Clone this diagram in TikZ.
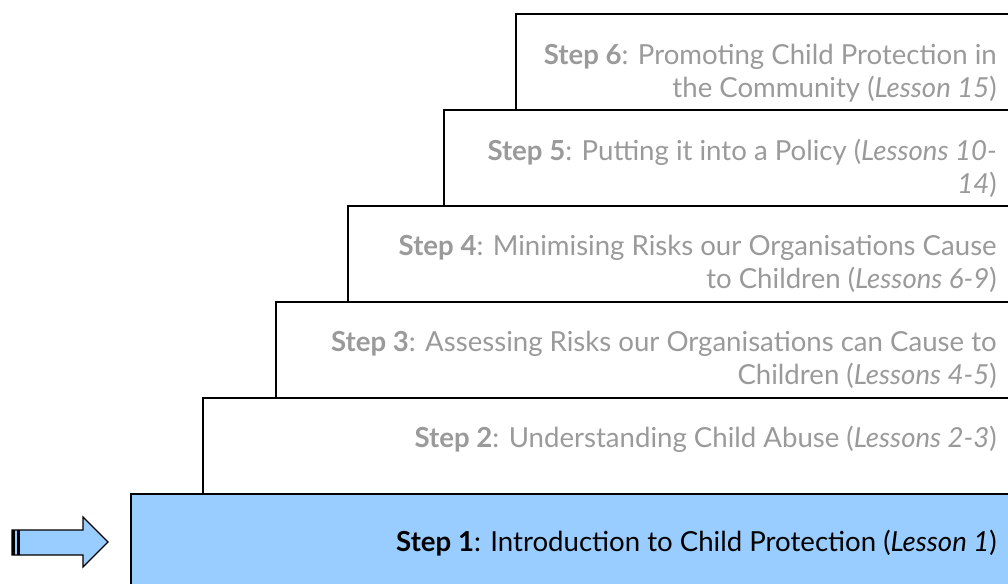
\documentclass[tikz,border=0pt]{standalone}
\usepackage{fontspec}
\setmainfont{Lato}
\definecolor{stepblue}{HTML}{99CCFF}
\definecolor{stepgray}{HTML}{9A9A9A}
\tikzset{
    stepedge/.style={draw=black, line width=1.1pt},
    steptext/.style={anchor=north east, inner sep=0pt, align=right, text=stepgray,
        font=\fontsize{20.7}{24.8}\selectfont},
}
\begin{document}
\begin{tikzpicture}[x=0.75pt, y=-0.75pt]
    \useasboundingbox (0,0) rectangle (1008,583);
    \clip (0,0) rectangle (1008,583);
    % the stairs, bottom step first
    \fill[stepblue] (131,494) rectangle (1015,590);
    \foreach \n/\x in {1/131, 2/203, 3/276, 4/348, 5/444, 6/516} {
        \pgfmathsetmacro{\y}{494 - 96*(\n - 1)}
        \draw[stepedge] (\x, \y + 96) -- (\x, \y) -- (1015, \y);
    }
    % texts
    \node[steptext, text=black] (txt1) at (997, 530) {\textbf{Step 1}: Introduction to Child Protection (\textit{Lesson 1})};
    \node[steptext] (txt2) at (997, 426) {\textbf{Step 2}: Understanding Child Abuse (\textit{Lessons 2-3})};
    \node[steptext] (txt3) at (997, 331) {\textbf{Step 3}: Assessing Risks our Organisations can Cause to\\ Children (\textit{Lessons 4-5})};
    \node[steptext] (txt4) at (997, 235) {\textbf{Step 4}: Minimising Risks our Organisations Cause\\ to Children (\textit{Lessons 6-9})};
    \node[steptext] (txt5) at (997, 139) {\textbf{Step 5}: Putting it into a Policy (\textit{Lessons 10-}\\ \textit{14})};
    \node[steptext] (txt6) at (997, 44) {\textbf{Step 6}: Promoting Child Protection in\\ the Community (\textit{Lesson 15})};
    % arrow pointing at step 1
    \draw[fill=stepblue, line width=0.9pt] (12,530) -- (83,530) -- (83,517) -- (108,542)
        -- (83,567) -- (83,555) -- (12,555) -- cycle;
    \fill[black] (12,530) rectangle (15,555);
    \fill[black] (17,530) rectangle (20,555);
\end{tikzpicture}
\end{document}
